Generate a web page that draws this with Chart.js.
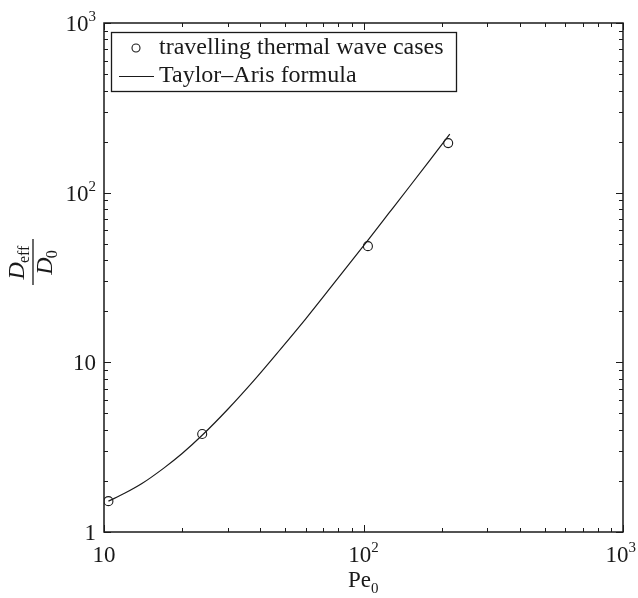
<!DOCTYPE html>
<html>
<head>
<meta charset="utf-8">
<script src="https://cdn.jsdelivr.net/npm/chart.js@4.4.0/dist/chart.umd.min.js"></script>
<style>
  html, body { margin: 0; padding: 0; background: #fff; }
  #wrap { width: 638px; height: 598px; }
</style>
</head>
<body>
<div id="wrap"><canvas id="myChart"></canvas></div>
<script>
// simulated cases (circles)
const peCases = [10.4, 23.9, 104, 212];
const dCases = [1.52, 3.78, 48.4, 196];
// Taylor-Aris curve
const peCurve = [10.4, 12, 14, 17, 20, 24, 30, 38, 48, 60, 75, 90, 105, 125, 150, 180, 215];
const dCurve = [1.52, 1.69, 1.93, 2.38, 2.90, 3.74, 5.29, 7.88, 12.0, 18.1, 27.8, 39.6, 53.5, 75.4, 108, 155, 221];
// tick labels: base + exponent
const xTickVals = [10, 100, 1000];
const xTickBase = ['10', '10', '10'];
const xTickExp = ['', '2', '3'];
const yTickVals = [1, 10, 100, 1000];
const yTickBase = ['1', '10', '10', '10'];
const yTickExp = ['', '', '2', '3'];
const legendLabels = ['travelling thermal wave cases', 'Taylor\u2013Aris formula'];

const ink = '#1a1a1a';
const serif = '"Liberation Serif", "DejaVu Serif", serif';
const ctx = document.getElementById('myChart');

// draw "10" with a raised exponent; whole label centred, kept inside the canvas
const supText = (c, base, exp, x, y, align) => {
  c.font = '23px ' + serif;
  const wb = c.measureText(base).width;
  c.font = '15px ' + serif;
  const we = exp ? c.measureText(exp).width : 0;
  const w = wb + we;
  let x0 = x;
  if (align === 'center') x0 = Math.min(x - w / 2, 636 - w);
  if (align === 'right') x0 = x - w;
  c.textAlign = 'left';
  c.textBaseline = 'alphabetic';
  c.font = '23px ' + serif;
  c.fillText(base, x0, y);
  if (exp) {
    c.font = '15px ' + serif;
    c.fillText(exp, x0 + wb, y - 10);
  }
};

const frame = {
  id: 'frame',
  afterDraw(chart) {
    const c = chart.ctx;
    const a = chart.chartArea;
    const xs = chart.scales.x, ys = chart.scales.y;
    c.save();
    c.strokeStyle = ink;
    c.fillStyle = ink;
    c.lineWidth = 1.5;
    c.strokeRect(a.left, a.top, a.right - a.left, a.bottom - a.top);

    // inward ticks on all four sides
    c.lineWidth = 1;
    const tick = (v, axis, len) => {
      if (axis === 'x') {
        const p = Math.round(xs.getPixelForValue(v)) + 0.5;
        c.beginPath();
        c.moveTo(p, a.bottom); c.lineTo(p, a.bottom - len);
        c.moveTo(p, a.top); c.lineTo(p, a.top + len);
        c.stroke();
      } else {
        const p = Math.round(ys.getPixelForValue(v)) + 0.5;
        c.beginPath();
        c.moveTo(a.left, p); c.lineTo(a.left + len, p);
        c.moveTo(a.right, p); c.lineTo(a.right - len, p);
        c.stroke();
      }
    };
    for (let d = 1; d < 1000; d *= 10) {
      for (let m = 2; m <= 9; m++) {
        if (d * m >= 10) tick(d * m, 'x', 4);
        tick(d * m, 'y', 4);
      }
    }
    xTickVals.forEach(v => tick(v, 'x', 7));
    yTickVals.forEach(v => tick(v, 'y', 7));

    // tick labels
    xTickVals.forEach((v, i) => {
      supText(c, xTickBase[i], xTickExp[i], xs.getPixelForValue(v), a.bottom + 30, 'center');
    });
    yTickVals.forEach((v, i) => {
      supText(c, yTickBase[i], yTickExp[i], a.left - 8, ys.getPixelForValue(v) + 8, 'right');
    });

    // x title: Pe0
    c.textAlign = 'left';
    c.font = '23px ' + serif;
    const wPe = c.measureText('Pe').width;
    const px = xs.getPixelForValue(100) - (wPe + 8) / 2;
    c.fillText('Pe', px, 587);
    c.font = '15px ' + serif;
    c.fillText('0', px + wPe, 593);

    // y title: fraction D_eff / D_0, rotated
    c.save();
    c.translate(33, 262);
    c.rotate(-Math.PI / 2);
    c.lineWidth = 1.3;
    c.beginPath();
    c.moveTo(-23, 0); c.lineTo(23, 0);
    c.stroke();
    c.font = 'italic 24px ' + serif;
    const wD = c.measureText('D').width;
    c.font = '16px ' + serif;
    const wEff = c.measureText('eff').width;
    let nx = -(wD + wEff) / 2;
    c.font = 'italic 24px ' + serif;
    c.fillText('D', nx, -9);
    c.font = '16px ' + serif;
    c.fillText('eff', nx + wD - 1, -4);
    const w0 = c.measureText('0').width;
    nx = -(wD + w0) / 2;
    c.font = 'italic 24px ' + serif;
    c.fillText('D', nx, 19);
    c.font = '16px ' + serif;
    c.fillText('0', nx + wD - 1, 24);
    c.restore();

    // legend box
    c.lineWidth = 1.3;
    c.strokeRect(111.5, 32.5, 345, 59);
    c.font = '24px ' + serif;
    c.textBaseline = 'middle';
    c.fillText(legendLabels[0], 159, 48);
    c.fillText(legendLabels[1], 159, 76);
    c.lineWidth = 1.1;
    c.beginPath();
    c.arc(136, 48, 4, 0, Math.PI * 2);
    c.stroke();
    c.beginPath();
    c.moveTo(119, 76.5); c.lineTo(154, 76.5);
    c.stroke();
    c.restore();
  }
};

new Chart(ctx, {
  type: 'scatter',
  data: {
    datasets: [{
      label: legendLabels[1],
      data: peCurve.map((x, i) => ({ x: x, y: dCurve[i] })),
      showLine: true,
      borderColor: ink,
      borderWidth: 1.2,
      pointRadius: 0,
      cubicInterpolationMode: 'monotone'
    }, {
      label: legendLabels[0],
      data: peCases.map((x, i) => ({ x: x, y: dCases[i] })),
      showLine: false,
      borderColor: ink,
      backgroundColor: 'rgba(0,0,0,0)',
      borderWidth: 1.1,
      pointRadius: 4.5,
      pointStyle: 'circle'
    }]
  },
  options: {
    responsive: true,
    maintainAspectRatio: false,
    animation: false,
    layout: { padding: { left: 104, right: 15, top: 23, bottom: 66 } },
    plugins: { legend: { display: false }, tooltip: { enabled: false } },
    scales: {
      x: { type: 'logarithmic', min: 10, max: 1000, display: false },
      y: { type: 'logarithmic', min: 1, max: 1000, display: false }
    }
  },
  plugins: [frame]
});
</script>
</body>
</html>
